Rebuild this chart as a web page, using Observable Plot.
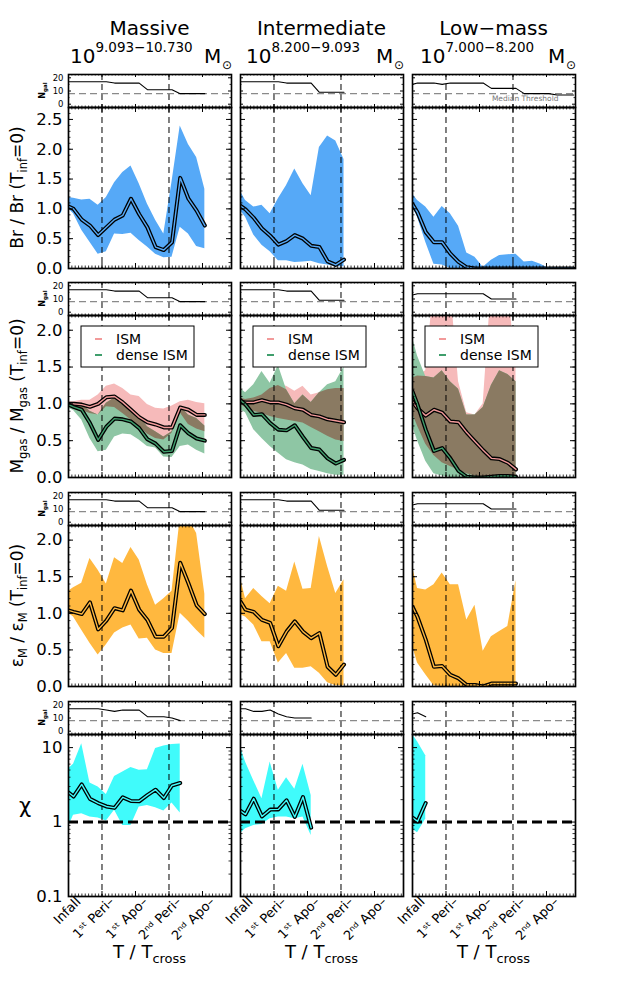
<!DOCTYPE html>
<html><head><meta charset="utf-8">
<script src="https://cdn.jsdelivr.net/npm/d3@7"></script>
<script src="https://cdn.jsdelivr.net/npm/@observablehq/plot@0.6"></script>
<style>
body{margin:0;background:#fff;}
#fig{position:relative;width:623px;height:985px;overflow:hidden;background:#fff;}
.panel{position:absolute;}
.panel svg{overflow:visible;display:block;}
</style></head><body><div id="fig"></div><script>
// ---------------- DATA ----------------
const tGrid = [0, 0.15, 0.395, 0.64, 0.885, 1.13, 1.375, 1.62, 1.865, 2.11, 2.355, 2.6, 2.845, 3.09, 3.335, 3.58, 3.825, 4.07, 4.315, 4.56, 4.805];
const xTickPos = [0, 1, 2, 3, 4];
const xTickLabels = ["Infall", "1ˢᵗ Peri–", "1ˢᵗ Apo–", "2ⁿᵈ Peri–", "2ⁿᵈ Apo–"];
const periPos = [1, 3];
const nThreshold = 8;
const chiRef = 1;
const columnNames = ["Massive", "Intermediate", "Low−mass"];
const massRanges = ["9.093−10.730", "8.200−9.093", "7.000−8.200"];
const legendLabels = ["ISM", "dense ISM"];

// N_gal
const nMassive = [17,17,17,17,17,17,16,16,16,16,11,11,11,11,8,8,8,8];
const nInter   = [17,17,17,17,17,17,16,16,16,16,9,9,9,9];
const nLowBr   = [15,16,16,16,15,16,16,16,16,16,12,12,12,12,8,8,8,8,7,7,7];
const nLow     = [13,14,14,14,14,14,14,14,14,14,10,10,10,10];
const nChiMassive = [17,17,17,17,17,16,15,16,16,16,11,11,11,10,8];
const nChiInter   = [17,17,15,15,16,13,11,10,10,10];
const nChiLow     = [13,14,11];

// Row 1: Br / Br(Tinf=0)
const brMassiveMed = [1.04,1.0,0.82,0.72,0.56,0.69,0.82,0.89,1.17,0.91,0.69,0.36,0.31,0.44,1.52,1.17,0.97,0.72];
const brMassiveHi  = [1.19,1.18,1.15,1.16,1.06,1.19,1.44,1.61,1.72,1.42,1.08,0.81,0.58,1.45,2.39,2.08,1.86,1.33];
const brMassiveLo  = [1.0,0.92,0.64,0.44,0.24,0.28,0.58,0.57,0.59,0.47,0.36,0.24,0.18,0.19,0.69,0.58,0.37,0.33];
const brInterMed = [1.05,0.99,0.85,0.67,0.55,0.40,0.46,0.56,0.50,0.38,0.36,0.12,0.06,0.15];
const brInterHi  = [1.29,1.14,1.03,1.06,0.92,1.17,1.39,1.67,1.42,1.22,2.03,2.22,2.14,1.83];
const brInterLo  = [0.97,0.86,0.56,0.39,0.28,0.13,0.13,0.10,0.11,0.12,0.08,0.06,0.03,0.03];
const brLowMed = [1.08,0.94,0.61,0.44,0.44,0.25,0.11,0.02,0,0,0,0,0,0,0,0,0,0,0,0,0];
const brLowHi  = [1.25,1.14,1.03,0.86,1.04,0.92,0.71,0.26,0.19,0.02,0.14,0.22,0.23,0.24,0.11,0.12,0.07,0,0,0,0];
const brLowLo  = [1.03,0.86,0.44,0.07,0.06,0,0,0,0,0,0,0,0,0,0,0,0,0,0,0,0];

// Row 2: Mgas / Mgas(Tinf=0)
const ismMassiveMed = [1.0,1.0,0.99,0.96,1.0,1.09,1.1,1.02,0.92,0.82,0.75,0.72,0.68,0.68,0.95,0.92,0.85,0.85];
const ismMassiveHi  = [1.03,1.03,1.05,1.05,1.12,1.24,1.27,1.21,1.12,1.1,0.99,0.94,0.93,0.97,1.03,1.05,1.02,1.0];
const ismMassiveLo  = [0.96,0.94,0.91,0.87,0.85,0.96,0.95,0.87,0.78,0.69,0.59,0.53,0.51,0.6,0.88,0.72,0.66,0.62];
const denseMassiveMed = [0.99,0.96,0.92,0.74,0.51,0.69,0.8,0.79,0.76,0.67,0.52,0.46,0.35,0.36,0.71,0.6,0.53,0.5];
const denseMassiveHi  = [1.02,1.01,1.0,0.9,0.85,1.01,1.08,1.03,0.94,0.85,0.69,0.62,0.55,0.62,0.97,0.85,0.8,0.7];
const denseMassiveLo  = [0.94,0.91,0.78,0.53,0.35,0.37,0.55,0.59,0.58,0.51,0.42,0.40,0.28,0.27,0.42,0.44,0.37,0.32];
const ismInterMed = [1.03,1.02,1.02,1.05,1.02,1.02,0.99,0.94,0.92,0.85,0.83,0.79,0.77,0.75];
const ismInterHi  = [1.08,1.06,1.08,1.12,1.21,1.25,1.24,1.17,1.24,1.12,1.15,1.19,1.21,1.21];
const ismInterLo  = [0.99,0.95,0.9,0.87,0.83,0.8,0.78,0.76,0.74,0.68,0.62,0.56,0.51,0.49];
const denseInterMed = [1.05,0.99,0.85,0.86,0.74,0.65,0.64,0.71,0.55,0.40,0.38,0.26,0.19,0.24];
const denseInterHi  = [1.21,1.15,1.26,1.44,1.28,1.52,1.19,1.0,1.12,1.02,1.15,1.26,1.30,1.5];
const denseInterLo  = [0.92,0.88,0.65,0.53,0.42,0.33,0.24,0.2,0.17,0.11,0.08,0.05,0.03,0.03];
const ismLowMed = [1.03,0.94,0.84,0.92,0.88,0.76,0.75,0.61,0.49,0.37,0.26,0.25,0.2,0.11];
const ismLowHi  = [1.35,1.38,1.45,2.6,2.6,2.6,1.3,0.88,0.85,1.0,2.6,2.6,2.6,1.5];
const ismLowLo  = [0.87,0.7,0.45,0.3,0.2,0.15,0.1,0.05,0.02,0,0,0,0,0];
const denseLowMed = [1.17,0.99,0.65,0.36,0.40,0.26,0.09,0.01,0,0,0.01,0.02,0.02,0.01];
const denseLowHi  = [1.9,1.65,1.37,1.35,1.45,1.3,1.2,0.85,0.85,0.95,1.25,1.45,1.4,1.3];
const denseLowLo  = [0.7,0.5,0.22,0.05,0.02,0,0,0,0,0,0,0,0,0];

// Row 3: eps_M / eps_M(Tinf=0)
const epsMassiveMed = [1.04,1.02,0.99,1.15,0.78,0.9,1.07,1.04,1.31,1.05,0.91,0.68,0.68,0.8,1.69,1.41,1.11,0.99];
const epsMassiveHi  = [1.3,1.35,1.41,1.75,1.59,1.4,1.76,1.68,1.9,1.73,1.39,1.11,1.2,1.3,2.3,2.3,2.09,1.26];
const epsMassiveLo  = [1.0,0.95,0.77,0.59,0.43,0.57,0.73,0.8,0.84,0.65,0.66,0.5,0.45,0.45,1.0,0.89,0.77,0.66];
const epsInterMed = [1.16,1.05,1.02,0.91,0.87,0.55,0.75,0.89,0.75,0.66,0.73,0.27,0.16,0.3];
const epsInterHi  = [1.48,1.2,1.34,1.23,1.13,1.37,1.3,1.7,1.33,1.34,2.05,1.64,1.27,1.46];
const epsInterLo  = [0.98,0.95,0.84,0.61,0.61,0.32,0.45,0.25,0.25,0.27,0.18,0.05,0.01,0.01];
const epsLowMed = [1.09,0.95,0.64,0.27,0.28,0.16,0.11,0.02,0.02,0,0.04,0.04,0.04,0.04];
const epsLowHi  = [1.64,1.34,1.32,1.39,1.55,1.39,1.39,0.91,1.11,0.48,0.68,0.75,0.82,1.45];
const epsLowLo  = [0.55,0.32,0.16,0.01,0,0,0,0,0,0,0,0,0,0];

// Row 4: chi
const chiMassiveMed = [2.5,2.2,3.2,2.05,1.8,1.62,1.55,2.15,1.92,1.9,2.3,2.72,2.1,3.1,3.35];
const chiMassiveHi  = [5.2,6.0,11.3,3.35,2.95,2.35,4.1,4.7,5.4,4.95,5.05,9.7,10.5,11.0,11.2];
const chiMassiveLo  = [0.86,1.23,1.29,1.17,1.13,1.03,1.44,0.9,0.9,1.59,1.67,1.56,1.41,1.8,1.32];
const chiInterMed = [1.41,1.27,2.06,1.19,1.47,1.48,1.96,1.17,2.17,0.84];
const chiInterHi  = [10.2,6.4,3.6,2.06,6.4,2.67,3.95,2.75,5.97,2.28];
const chiInterLo  = [0.7,0.81,0.9,0.93,1.11,1.17,1.17,1.11,1.17,0.66];
const chiLowMed = [1.15,1.02,1.8];
const chiLowHi  = [15,12,7.8];
const chiLowLo  = [0.8,0.72,1.1];

// ---------------- LAYOUT / STYLE ----------------
const W = 163;
const X_DOMAIN = [0, 4.866];
const colLeft = [68, 240, 412];
const nTop = [74, 282, 492, 701];
const nH = 33;
const mainTop = [107, 315, 525, 734];
const mainH = [161, 162, 161, 162];
const FONT = "DejaVu Sans";
const C = {br:"#56a9f7", eps:"#ffb83f", chi:"#40fbfb", pink:"#f6baba", green:"#8ec6a4", brown:"#8a7a62",
           pinkLine:"#f29a9a", greenLine:"#3f9e6c", thr:"#8a8a8a"};

const xMinor = d3.range(0, 4.87, 0.1);
const yCfg = [
  {scale:{domain:[0,2.7]}, major:[0,0.5,1,1.5,2,2.5], minor:d3.range(0,2.71,0.1), fmt:d3.format(".1f")},
  {scale:{domain:[0,2.2]}, major:[0,0.5,1,1.5,2], minor:d3.range(0,2.21,0.1), fmt:d3.format(".1f")},
  {scale:{domain:[0,2.2]}, major:[0,0.5,1,1.5,2], minor:d3.range(0,2.21,0.1), fmt:d3.format(".1f")},
  {scale:{type:"log", domain:[0.1,15]}, major:[0.1,1,10], minor:[0.2,0.3,0.4,0.5,0.6,0.7,0.8,0.9,2,3,4,5,6,7,8,9], fmt:d=> d<1 ? "0.1" : String(d)}
];

const fig = document.getElementById("fig");
function place(svg, left, top, h) {
  const div = document.createElement("div");
  div.className = "panel";
  div.style.left = left + "px"; div.style.top = top + "px";
  div.style.width = W + "px"; div.style.height = h + "px";
  div.appendChild(svg);
  fig.appendChild(div);
}
function edgeTicks(H, yMaj, yMin, a = 5, b = 2.5) {
  return [
    Plot.tickX(xTickPos, {x:d=>d, insetBottom:H-a, strokeWidth:1}),
    Plot.tickX(xTickPos, {x:d=>d, insetTop:H-a, strokeWidth:1}),
    Plot.tickX(xMinor, {x:d=>d, insetBottom:H-b, strokeWidth:0.8}),
    Plot.tickX(xMinor, {x:d=>d, insetTop:H-b, strokeWidth:0.8}),
    Plot.tickY(yMaj, {y:d=>d, insetRight:W-a, strokeWidth:1}),
    Plot.tickY(yMaj, {y:d=>d, insetLeft:W-a, strokeWidth:1}),
    Plot.tickY(yMin, {y:d=>d, insetRight:W-b, strokeWidth:0.8}),
    Plot.tickY(yMin, {y:d=>d, insetLeft:W-b, strokeWidth:0.8})
  ];
}
function mk(H, yScale, marks) {
  return Plot.plot({
    width: W, height: H, margin: 0,
    style: {overflow:"visible", fontFamily:FONT, background:"transparent"},
    x: {domain: X_DOMAIN, axis: null},
    y: {...yScale, axis: null},
    marks
  });
}
function rows(xs, lo, hi, med) { return med.map((m,i)=>({x:xs[i], lo:lo[i], hi:hi[i], m})); }
function band(d, fill) { return Plot.areaY(d, {x:"x", y1:"lo", y2:"hi", fill, clip:true}); }
function median(d, inner) {
  return [
    Plot.line(d, {x:"x", y:"m", stroke:"#000", strokeWidth:4, clip:true}),
    Plot.line(d, {x:"x", y:"m", stroke:inner, strokeWidth:1.4, clip:true})
  ];
}
const periRules = Plot.ruleX(periPos, {stroke:"#000", strokeWidth:1, strokeDasharray:"6,4"});

// N_gal panels
function nPanel(c, r, nArr, extra=[]) {
  const d = nArr.map((v,i)=>({x:tGrid[i], n:v}));
  const marks = [
    periRules,
    Plot.ruleY([nThreshold], {stroke:C.thr, strokeWidth:1.3, strokeDasharray:"7,4"}),
    Plot.line(d, {x:"x", y:"n", stroke:"#000", strokeWidth:1.1}),
    ...extra,
    Plot.frame({stroke:"#000", strokeWidth:1.6}),
    ...edgeTicks(nH, [0,10,20], [5,15], 3, 1.5)
  ];
  if (c === 0) marks.push(Plot.axisY({ticks:[0,10,20], tickSize:0, tickPadding:5, fontSize:8.5, label:null, tickFormat:d3.format("d")}));
  place(mk(nH, {domain:[-2.5,22.5]}, marks), colLeft[c], nTop[r], nH);
}
// main panels
function mainPanel(c, r, layers) {
  const cfg = yCfg[r];
  const H = mainH[r];
  const marks = [...layers.under, periRules, ...(layers.mid||[]), ...layers.over,
    Plot.frame({stroke:"#000", strokeWidth:1.7}),
    ...edgeTicks(H, cfg.major, cfg.minor)];
  if (c === 0) marks.push(Plot.axisY({ticks:cfg.major, tickSize:0, tickPadding:6, fontSize:16.5, label:null, tickFormat:cfg.fmt}));
  if (r === 3) {
    const xt = xTickPos.map((x,i)=>({x, label:xTickLabels[i]}));
    marks.push(Plot.text(xt, {x:"x", text:"label", frameAnchor:"bottom", textAnchor:"end", lineAnchor:"middle",
      rotate:-45, dx:10, dy:3, fontSize:13, fill:"#000"}));
  }
  place(mk(H, cfg.scale, marks), colLeft[c], mainTop[r], H);
}

const cols = [
  {nBr:nMassive, n:nMassive, nChi:nChiMassive,
   br:[brMassiveLo,brMassiveHi,brMassiveMed],
   ism:[ismMassiveLo,ismMassiveHi,ismMassiveMed], dense:[denseMassiveLo,denseMassiveHi,denseMassiveMed],
   eps:[epsMassiveLo,epsMassiveHi,epsMassiveMed], chi:[chiMassiveLo,chiMassiveHi,chiMassiveMed]},
  {nBr:nInter, n:nInter, nChi:nChiInter,
   br:[brInterLo,brInterHi,brInterMed],
   ism:[ismInterLo,ismInterHi,ismInterMed], dense:[denseInterLo,denseInterHi,denseInterMed],
   eps:[epsInterLo,epsInterHi,epsInterMed], chi:[chiInterLo,chiInterHi,chiInterMed]},
  {nBr:nLowBr, n:nLow, nChi:nChiLow,
   br:[brLowLo,brLowHi,brLowMed],
   ism:[ismLowLo,ismLowHi,ismLowMed], dense:[denseLowLo,denseLowHi,denseLowMed],
   eps:[epsLowLo,epsLowHi,epsLowMed], chi:[chiLowLo,chiLowHi,chiLowMed]}
];

cols.forEach((col, c) => {
  // row 1
  nPanel(c, 0, col.nBr, c === 2 ? [Plot.text([nThreshold], {y:d=>d, text:()=>"Median Threshold", frameAnchor:"right",
      textAnchor:"end", dx:-17, dy:5, fontSize:7.5, fill:"#777"})] : []);
  const br = rows(tGrid, ...col.br);
  mainPanel(c, 0, {under:[band(br, C.br)], over:median(br, C.br)});
  // row 2
  nPanel(c, 1, col.n);
  const ism = rows(tGrid, ...col.ism);
  const dense = rows(tGrid, ...col.dense);
  const ov = ism.map((p,i)=>{ const lo=Math.max(p.lo, dense[i].lo), hi=Math.min(p.hi, dense[i].hi); return {x:p.x, lo, hi:Math.max(lo,hi)}; });
  mainPanel(c, 1, {under:[band(ism, C.pink), band(dense, C.green), band(ov, C.brown)],
    over:[...median(ism, C.pinkLine), ...median(dense, C.greenLine)]});
  // row 3
  nPanel(c, 2, col.n);
  const eps = rows(tGrid, ...col.eps);
  mainPanel(c, 2, {under:[band(eps, C.eps)], over:median(eps, C.eps)});
  // row 4
  nPanel(c, 3, col.nChi);
  const chi = rows(tGrid, ...col.chi);
  mainPanel(c, 3, {under:[band(chi, C.chi)],
    mid:[Plot.ruleY([chiRef], {stroke:"#000", strokeWidth:3, strokeDasharray:"10,5"})],
    over:median(chi, C.chi)});
});

// ---------------- TEXT OVERLAY ----------------
const tenOffset = [2, 6, 8];
let s = `<svg xmlns="http://www.w3.org/2000/svg" width="623" height="985" style="position:absolute;left:0;top:0;font-family:'${FONT}';white-space:pre" fill="#000">`;
columnNames.forEach((name, c) => {
  const cx = colLeft[c] + W/2;
  s += `<text x="${cx}" y="35" font-size="20" text-anchor="middle">${name}</text>`;
  s += `<text x="${colLeft[c]+tenOffset[c]}" y="63" font-size="20">10<tspan dy="-11" font-size="13.5">${massRanges[c]}</tspan></text>`;
  s += `<text x="${colLeft[c]+136}" y="63" font-size="20">M</text>`;
  s += `<text x="${colLeft[c]+154}" y="69" font-size="12">⊙</text>`;
  s += `<text x="${cx}" y="958" font-size="18" text-anchor="middle">T  /  T<tspan dy="5" font-size="13">cross</tspan></text>`;
  // legend
  const lx = colLeft[c] + 13, ly = 326;
  s += `<rect x="${lx}" y="${ly}" width="113" height="41" fill="#fff" stroke="#000" stroke-width="1"/>`;
  s += `<line x1="${lx+14}" x2="${lx+21}" y1="${ly+13}" y2="${ly+13}" stroke="${C.pinkLine}" stroke-width="2"/>`;
  s += `<line x1="${lx+14}" x2="${lx+21}" y1="${ly+29}" y2="${ly+29}" stroke="${C.greenLine}" stroke-width="2"/>`;
  s += `<text x="${lx+35}" y="${ly+18}" font-size="14">${legendLabels[0]}</text>`;
  s += `<text x="${lx+35}" y="${ly+34}" font-size="14">${legendLabels[1]}</text>`;
});
const yLab = [
  `Br  /  Br  (T<tspan dy="4" font-size="11.5">inf</tspan><tspan dy="-4">=0)</tspan>`,
  `M<tspan dy="4" font-size="11.5">gas</tspan><tspan dy="-4">  /  M</tspan><tspan dy="4" font-size="11.5">gas</tspan><tspan dy="-4">  (T</tspan><tspan dy="4" font-size="11.5">inf</tspan><tspan dy="-4">=0)</tspan>`,
  `ε<tspan dy="4" font-size="11.5">M</tspan><tspan dy="-4">  /  ε</tspan><tspan dy="4" font-size="11.5">M</tspan><tspan dy="-4">  (T</tspan><tspan dy="4" font-size="11.5">inf</tspan><tspan dy="-4">=0)</tspan>`,
  `χ`
];
yLab.forEach((t, r) => {
  const cy = mainTop[r] + mainH[r]/2;
  s += `<text transform="translate(${r===3?25:23},${r===3?cy-2:cy}) rotate(${r===3?0:-90})" font-size="${r===3?21:17}" text-anchor="middle">${t}</text>`;
  s += `<text transform="translate(45,${nTop[r]+nH/2}) rotate(-90)" font-size="8" font-weight="bold" text-anchor="middle">N<tspan dy="2" font-size="5.5">gal</tspan></text>`;
});
s += `</svg>`;
fig.insertAdjacentHTML("beforeend", s);
</script></body></html>
